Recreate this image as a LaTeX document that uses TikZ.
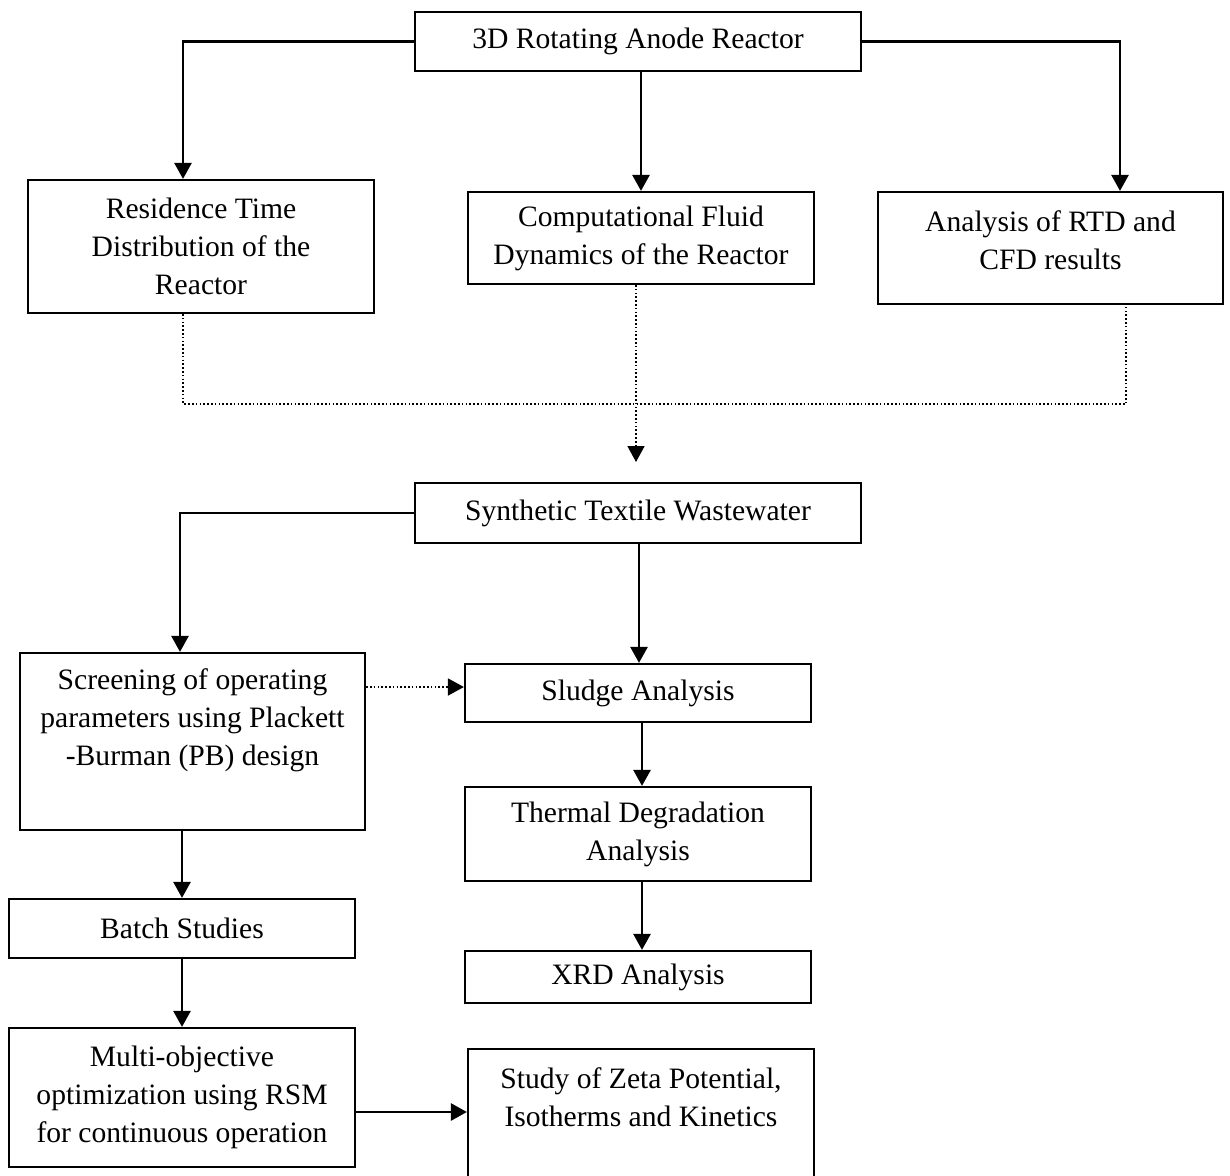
\documentclass[tikz,border=0pt]{standalone}
\usepackage{fontspec}
\setmainfont{Liberation Serif}
\usetikzlibrary{arrows.meta,calc}

\begin{document}
\begin{tikzpicture}[
  x=0.5pt, y=-0.5pt,
  font=\fontsize{14.8}{19}\selectfont,
  box/.style={draw, line width=1.1pt, inner sep=0pt, align=center},
  txt/.style={inner sep=0pt, align=center},
  arr/.style={line width=1.3pt, -{Triangle[length=8pt,width=8.5pt]}},
  dotline/.style={line width=0.8pt, dash pattern=on 0.8pt off 1.1pt},
  dotarr/.style={dotline, -{Triangle[length=8pt,width=8.5pt]}},
]
\fill[white] (0,0) rectangle (1230,1176);
\useasboundingbox (0,0) rectangle (1230,1176);

% ---- reactor studies ----
\node[box, minimum width=223pt, minimum height=29.5pt] (a) at (638,41.5) {3D Rotating Anode Reactor};
\node[box, minimum width=173pt, minimum height=66.5pt] (rtd) at (201,246.5)
  {Residence Time\\Distribution of the\\Reactor};
\node[box, minimum width=173pt, minimum height=46pt] (cfd) at (641,238)
  {Computational Fluid\\Dynamics of the Reactor};
\node[box, minimum width=172.5pt, minimum height=56pt] (ana) at (1050.5,248) {};
\node[txt] (anat) at (1050.5,240) {Analysis of RTD and\\CFD results};

% ---- wastewater treatment ----
\node[box, minimum width=223pt, minimum height=30pt] (stw) at (638,513) {Synthetic Textile Wastewater};
\node[box, minimum width=172.5pt, minimum height=88.5pt] (scr) at (192.5,741.5) {};
\node[txt] (scrt) at (192.5,720) {Screening of operating\\parameters using Plackett\\-Burman (PB) design};
\node[box, minimum width=173pt, minimum height=29pt] (slu) at (638,693) {Sludge Analysis};
\node[box, minimum width=173pt, minimum height=47pt] (the) at (638,834) {Thermal Degradation\\Analysis};
\node[box, minimum width=173pt, minimum height=26pt] (xrd) at (638,977) {XRD Analysis};
\node[box, minimum width=173pt, minimum height=29.5pt] (bat) at (182,928.5) {Batch Studies};
\node[box, minimum width=173pt, minimum height=69.5pt] (mul) at (182,1097.5)
  {Multi-objective\\optimization using RSM\\for continuous operation};
\node[box, minimum width=173pt, minimum height=75.5pt] (zet) at (641,1124.5) {};
\node[txt] (zett) at (641,1097) {Study of Zeta Potential,\\Isotherms and Kinetics};

% ---- solid connectors ----
\draw[arr] (a.west) -| ([xshift=-9pt]rtd.north);
\draw[arr] (cfd.north |- a.south) -- (cfd.north);
\draw[arr] (a.east) -| ([xshift=34.75pt]ana.north);
\draw[arr] (stw.west) -| ([xshift=-6.25pt]scr.north);
\draw[arr] ([xshift=0.5pt]stw.south) -- ([xshift=0.5pt]slu.north);
\draw[arr] ([xshift=2pt]slu.south) -- ([xshift=2pt]the.north);
\draw[arr] ([xshift=2pt]the.south) -- ([xshift=2pt]xrd.north);
\draw[arr] (bat.north |- scr.south) -- (bat.north);
\draw[arr] (bat.south) -- (mul.north);
\coordinate (mz) at ([yshift=-7.25pt]mul.east);
\draw[arr] (mz) -- (mz -| zet.west);

% ---- dotted links ----
\coordinate (bus) at (636,404);
\coordinate (rtdout) at ([xshift=-9pt]rtd.south);
\coordinate (anaout) at ([xshift=37.75pt]ana.south);
\coordinate (cfdout) at ([xshift=-2.5pt]cfd.south);
\coordinate (stwin) at (636,462);
\draw[dotline] (rtdout) -- (rtdout |- bus) -- (anaout |- bus) -- (anaout);
\draw[dotarr] (cfdout) -- (stwin);
\coordinate (sl) at ([yshift=3pt]slu.west);
\draw[dotarr] (sl -| scr.east) -- (sl);
\end{tikzpicture}
\end{document}
